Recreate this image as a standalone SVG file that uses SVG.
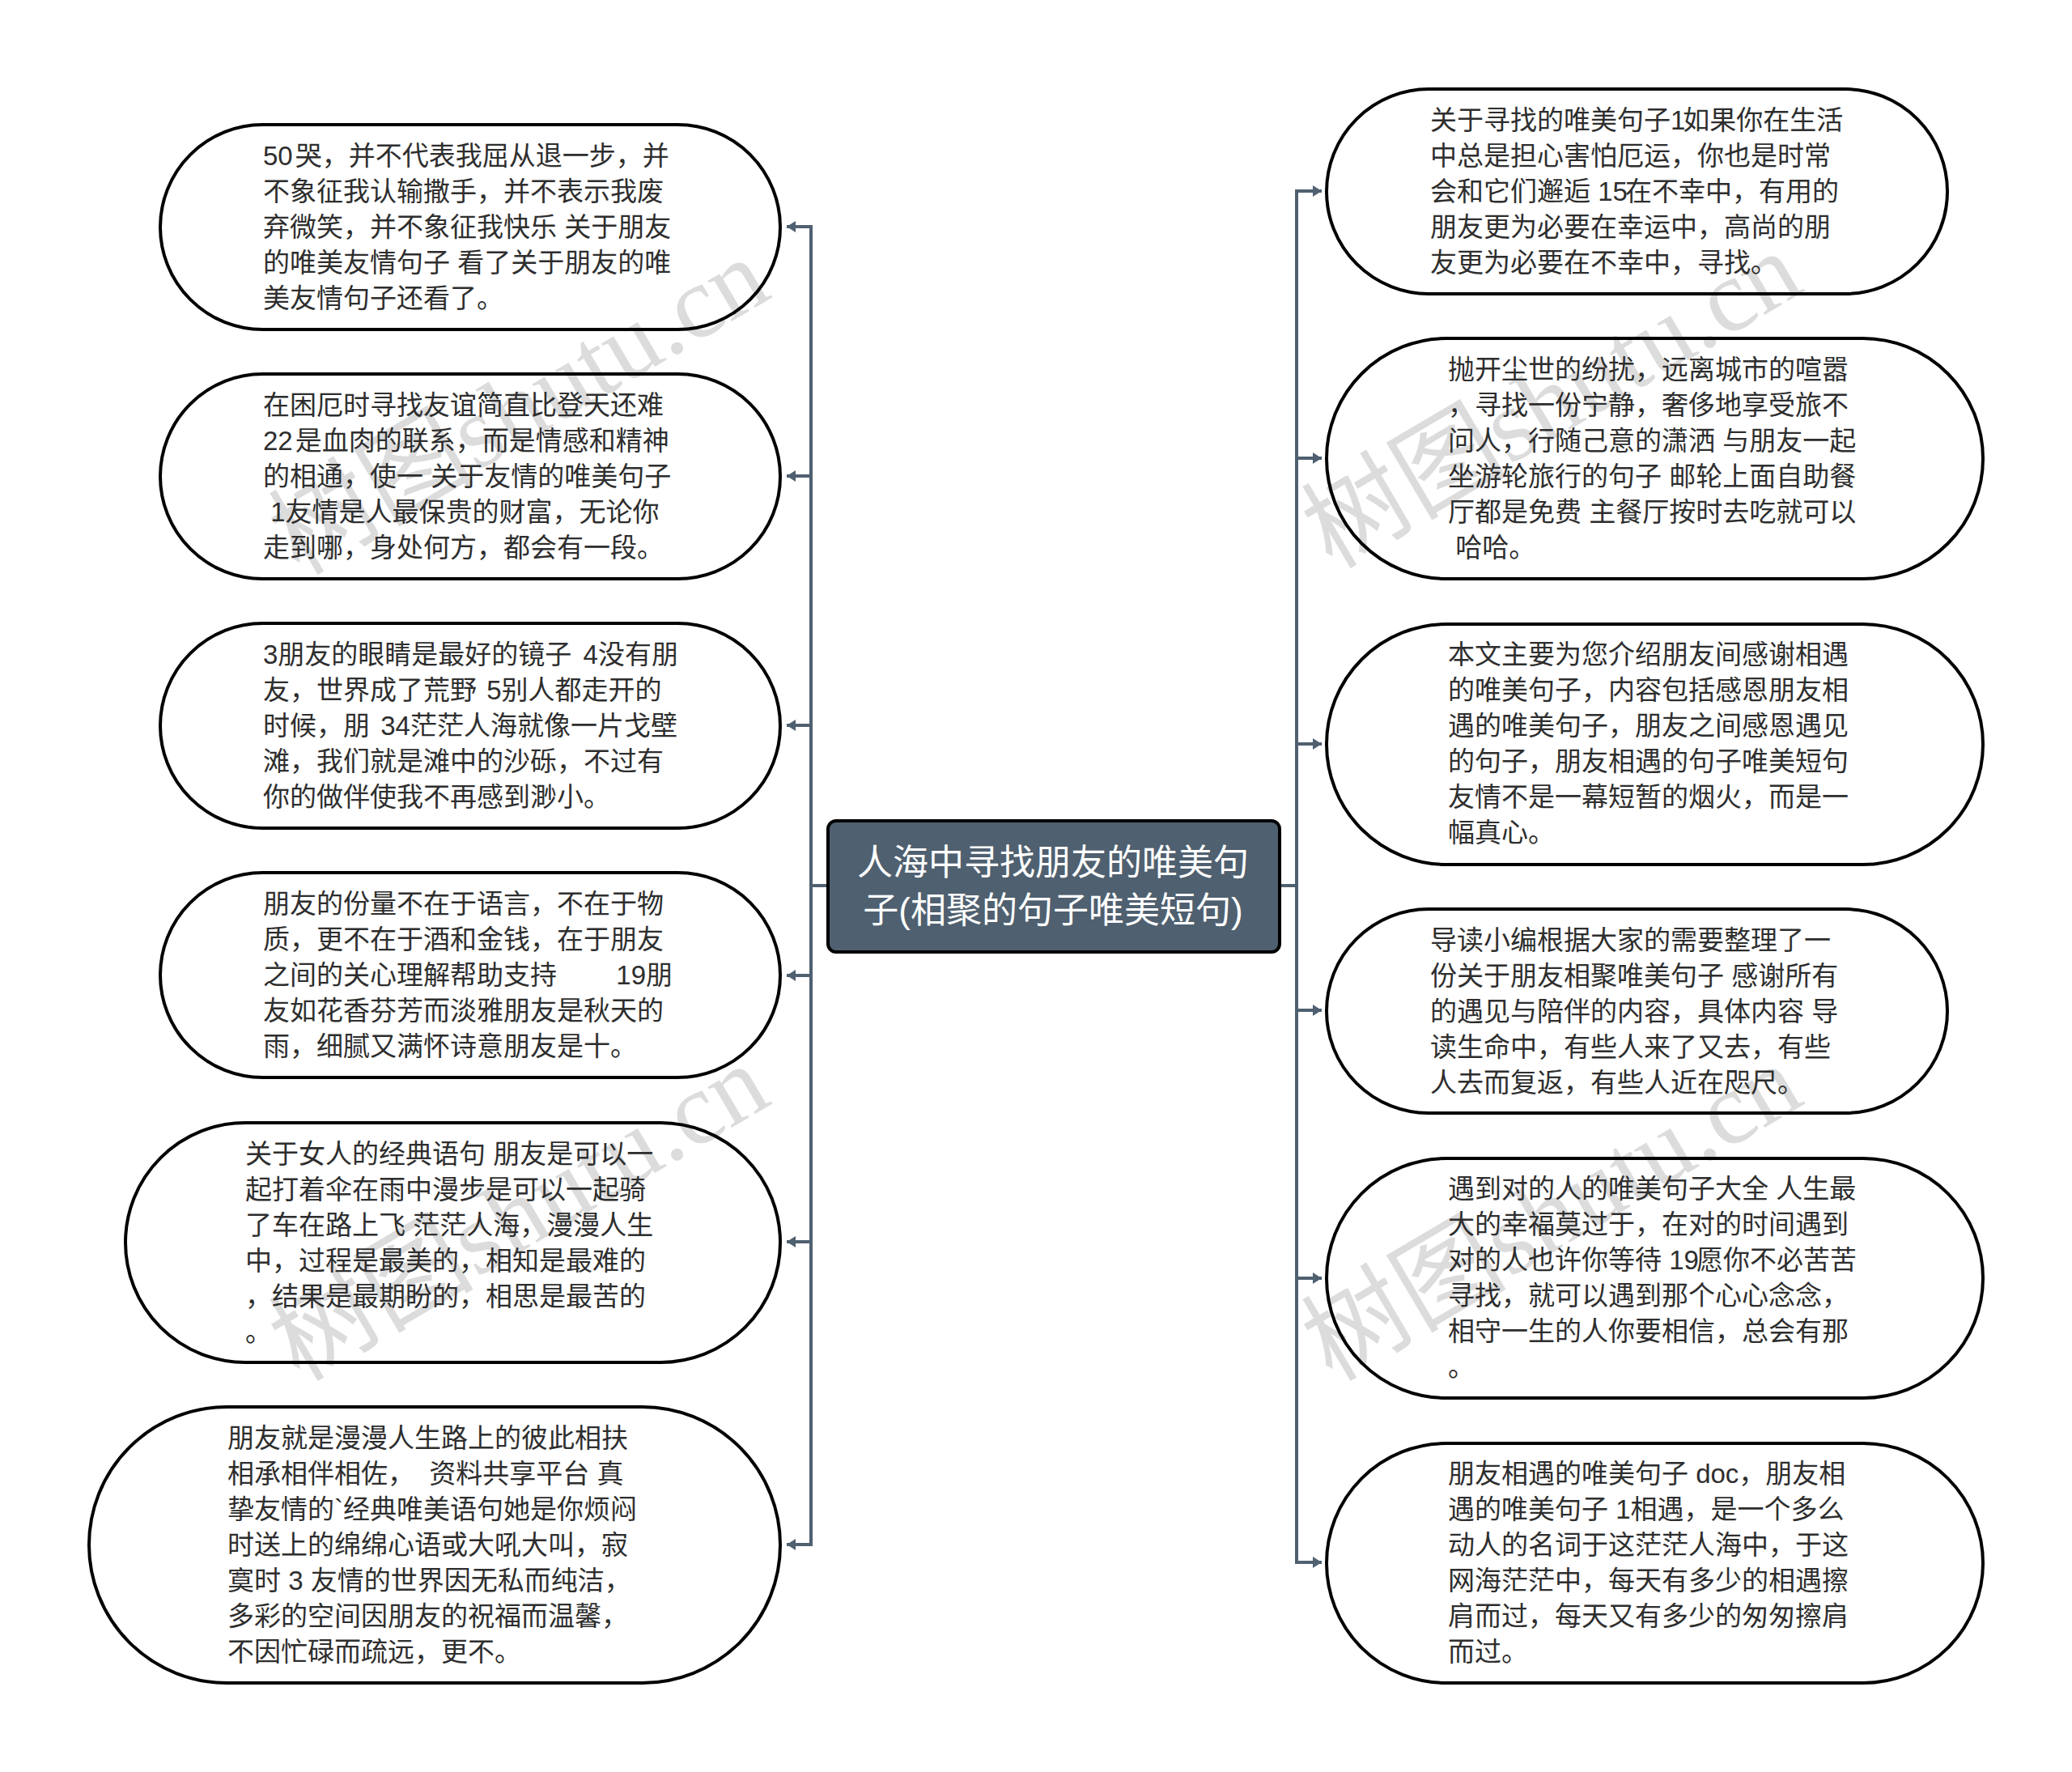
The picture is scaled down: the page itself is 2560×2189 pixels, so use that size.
<svg xmlns="http://www.w3.org/2000/svg" width="2560" height="2189" viewBox="0 0 2560 2189">
<style>
.wm{font-family:"Liberation Serif","Noto Sans CJK SC",serif;font-size:127px;fill:#dcdcdc;text-anchor:middle}
.pill{fill:none;stroke:#000;stroke-width:4}
.t{font-family:"Liberation Sans","Noto Sans CJK SC",sans-serif;font-size:33px;fill:#2e2e2e;white-space:pre}
.c{font-family:"Liberation Sans","Noto Sans CJK SC",sans-serif;font-size:44px;fill:#fff;text-anchor:middle}
.ln{fill:none;stroke:#4f6070;stroke-width:4}
</style>
<defs>
<marker id="ah" markerUnits="userSpaceOnUse" markerWidth="12" markerHeight="14" refX="11" refY="7" orient="auto"><path d="M0 0L11 7L0 14Z" fill="#4f6070"/></marker>
</defs>
<rect width="2560" height="2189" fill="#fff"/>
<g id="watermark">
<text class="wm" transform="translate(663 539) rotate(-30.5)">树图shutu.cn</text>
<text class="wm" transform="translate(1939 531) rotate(-30.5)">树图shutu.cn</text>
<text class="wm" transform="translate(663 1535) rotate(-30.5)">树图shutu.cn</text>
<text class="wm" transform="translate(1939 1535) rotate(-30.5)">树图shutu.cn</text>
</g>
<g id="connectors">
<path class="ln" d="M1022 1094H1002"/>
<path class="ln" d="M1582 1094H1602"/>
<path class="ln" marker-end="url(#ah)" d="M1002 1094V280H972"/>
<path class="ln" marker-end="url(#ah)" d="M1002 588H972"/>
<path class="ln" marker-end="url(#ah)" d="M1002 896H972"/>
<path class="ln" marker-end="url(#ah)" d="M1002 1205H972"/>
<path class="ln" marker-end="url(#ah)" d="M1002 1534H972"/>
<path class="ln" marker-end="url(#ah)" d="M1002 1094V1908H972"/>
<path class="ln" marker-end="url(#ah)" d="M1602 1094V236H1633"/>
<path class="ln" marker-end="url(#ah)" d="M1602 566H1633"/>
<path class="ln" marker-end="url(#ah)" d="M1602 919H1633"/>
<path class="ln" marker-end="url(#ah)" d="M1602 1248H1633"/>
<path class="ln" marker-end="url(#ah)" d="M1602 1579H1633"/>
<path class="ln" marker-end="url(#ah)" d="M1602 1094V1930H1633"/>
</g>
<g id="center">
<rect x="1023" y="1014" width="558" height="162" rx="10" fill="#4f6070" stroke="#000" stroke-width="4"/>
<text class="c" x="1301" y="1081">人海中寻找朋友的唯美句</text>
<text class="c" x="1301" y="1140">子(相聚的句子唯美短句)</text>
</g>
<g id="left1">
<rect class="pill" x="198" y="154" width="766" height="253" rx="126.5"/>
<text class="t" x="325" y="204">50<tspan dx="3">哭</tspan>，并不代表我屈从退一步，并</text>
<text class="t" x="325" y="248">不象征我认输撒手，并不表示我废</text>
<text class="t" x="325" y="292">弃微笑，并不象征我快乐 关于朋友</text>
<text class="t" x="325" y="336">的唯美友情句子 看了关于朋友的唯</text>
<text class="t" x="325" y="380">美友情句子还看了。</text>
</g>
<g id="left2">
<rect class="pill" x="198" y="462" width="766" height="253" rx="126.5"/>
<text class="t" x="325" y="512">在困厄时寻找友谊简直比登天还难</text>
<text class="t" x="325" y="556">22<tspan dx="3">是</tspan>血肉的联系，而是情感和精神</text>
<text class="t" x="325" y="600">的相通，使一 关于友情的唯美句子</text>
<text class="t" x="325" y="644"> 1友情是人最保贵的财富，无论你</text>
<text class="t" x="325" y="688">走到哪，身处何方，都会有一段。</text>
</g>
<g id="left3">
<rect class="pill" x="198" y="770" width="766" height="253" rx="126.5"/>
<text class="t" x="325" y="820">3朋友的眼睛是最好的镜子 <tspan dx="5">4</tspan>没有朋</text>
<text class="t" x="325" y="864">友，世界成了荒野 <tspan dx="3">5</tspan>别人都走开的</text>
<text class="t" x="325" y="908">时候，朋 <tspan dx="4">34</tspan>茫茫人海就像一片戈壁</text>
<text class="t" x="325" y="952">滩，我们就是滩中的沙砾，不过有</text>
<text class="t" x="325" y="996">你的做伴使我不再感到渺小。</text>
</g>
<g id="left4">
<rect class="pill" x="198" y="1078" width="766" height="253" rx="126.5"/>
<text class="t" x="325" y="1128">朋友的份量不在于语言，不在于物</text>
<text class="t" x="325" y="1172">质，更不在于酒和金钱，在于朋友</text>
<text class="t" x="325" y="1216">之间的关心理解帮助支持        19朋</text>
<text class="t" x="325" y="1260">友如花香芬芳而淡雅朋友是秋天的</text>
<text class="t" x="325" y="1304">雨，细腻又满怀诗意朋友是十。</text>
</g>
<g id="left5">
<rect class="pill" x="155" y="1387" width="809" height="296" rx="148"/>
<text class="t" x="303" y="1437">关于女人的经典语句 朋友是可以一</text>
<text class="t" x="303" y="1481">起打着伞在雨中漫步是可以一起骑</text>
<text class="t" x="303" y="1525">了车在路上飞 茫茫人海，漫漫人生</text>
<text class="t" x="303" y="1569">中，过程是最美的，相知是最难的</text>
<text class="t" x="303" y="1613">，结果是最期盼的，相思是最苦的</text>
<text class="t" x="303" y="1657">。</text>
</g>
<g id="left6">
<rect class="pill" x="110" y="1738" width="854" height="341" rx="170.5"/>
<text class="t" x="281" y="1788">朋友就是漫漫人生路上的彼此相扶</text>
<text class="t" x="281" y="1832">相承相伴相佐，  资料共享平台 真</text>
<text class="t" x="281" y="1876">挚友情的`经典唯美语句她是你烦闷</text>
<text class="t" x="281" y="1920">时送上的绵绵心语或大吼大叫，寂</text>
<text class="t" x="281" y="1964">寞时 3 友情的世界因无私而纯洁，</text>
<text class="t" x="281" y="2008">多彩的空间因朋友的祝福而温馨，</text>
<text class="t" x="281" y="2052">不因忙碌而疏远，更不。</text>
</g>
<g id="right1">
<rect class="pill" x="1639" y="110" width="767" height="253" rx="126.5"/>
<text class="t" x="1767" y="160">关于寻找的唯美句子1<tspan dx="-3">如</tspan>果你在生活</text>
<text class="t" x="1767" y="204">中总是担心害怕厄运，你也是时常</text>
<text class="t" x="1767" y="248">会和它们邂逅 15<tspan dx="-3">在</tspan>不幸中，有用的</text>
<text class="t" x="1767" y="292">朋友更为必要在幸运中，高尚的朋</text>
<text class="t" x="1767" y="336">友更为必要在不幸中，寻找。</text>
</g>
<g id="right2">
<rect class="pill" x="1639" y="418" width="811" height="297" rx="148.5"/>
<text class="t" x="1789" y="468">抛开尘世的纷扰，远离城市的喧嚣</text>
<text class="t" x="1789" y="512">，寻找一份宁静，奢侈地享受旅不</text>
<text class="t" x="1789" y="556">问人，行随己意的潇洒 与朋友一起</text>
<text class="t" x="1789" y="600">坐游轮旅行的句子 邮轮上面自助餐</text>
<text class="t" x="1789" y="644">厅都是免费 主餐厅按时去吃就可以</text>
<text class="t" x="1789" y="688"> 哈哈。</text>
</g>
<g id="right3">
<rect class="pill" x="1639" y="771" width="811" height="297" rx="148.5"/>
<text class="t" x="1789" y="820">本文主要为您介绍朋友间感谢相遇</text>
<text class="t" x="1789" y="864">的唯美句子，内容包括感恩朋友相</text>
<text class="t" x="1789" y="908">遇的唯美句子，朋友之间感恩遇见</text>
<text class="t" x="1789" y="952">的句子，朋友相遇的句子唯美短句</text>
<text class="t" x="1789" y="996">友情不是一幕短暂的烟火，而是一</text>
<text class="t" x="1789" y="1040">幅真心。</text>
</g>
<g id="right4">
<rect class="pill" x="1639" y="1123" width="767" height="252" rx="126"/>
<text class="t" x="1767" y="1173">导读小编根据大家的需要整理了一</text>
<text class="t" x="1767" y="1217">份关于朋友相聚唯美句子 感谢所有</text>
<text class="t" x="1767" y="1261">的遇见与陪伴的内容，具体内容 导</text>
<text class="t" x="1767" y="1305">读生命中，有些人来了又去，有些</text>
<text class="t" x="1767" y="1349">人去而复返，有些人近在咫尺。</text>
</g>
<g id="right5">
<rect class="pill" x="1639" y="1431" width="811" height="296" rx="148"/>
<text class="t" x="1789" y="1480">遇到对的人的唯美句子大全 人生最</text>
<text class="t" x="1789" y="1524">大的幸福莫过于，在对的时间遇到</text>
<text class="t" x="1789" y="1568">对的人也许你等待 19<tspan dx="-3">愿</tspan>你不必苦苦</text>
<text class="t" x="1789" y="1612">寻找，就可以遇到那个心心念念，</text>
<text class="t" x="1789" y="1656">相守一生的人你要相信，总会有那</text>
<text class="t" x="1789" y="1700">。</text>
</g>
<g id="right6">
<rect class="pill" x="1639" y="1783" width="811" height="296" rx="148"/>
<text class="t" x="1789" y="1832">朋友相遇的唯美句子 doc，朋友相</text>
<text class="t" x="1789" y="1876">遇的唯美句子 1相遇，是一个多么</text>
<text class="t" x="1789" y="1920">动人的名词于这茫茫人海中，于这</text>
<text class="t" x="1789" y="1964">网海茫茫中，每天有多少的相遇擦</text>
<text class="t" x="1789" y="2008">肩而过，每天又有多少的匆匆擦肩</text>
<text class="t" x="1789" y="2052">而过。</text>
</g>
</svg>
